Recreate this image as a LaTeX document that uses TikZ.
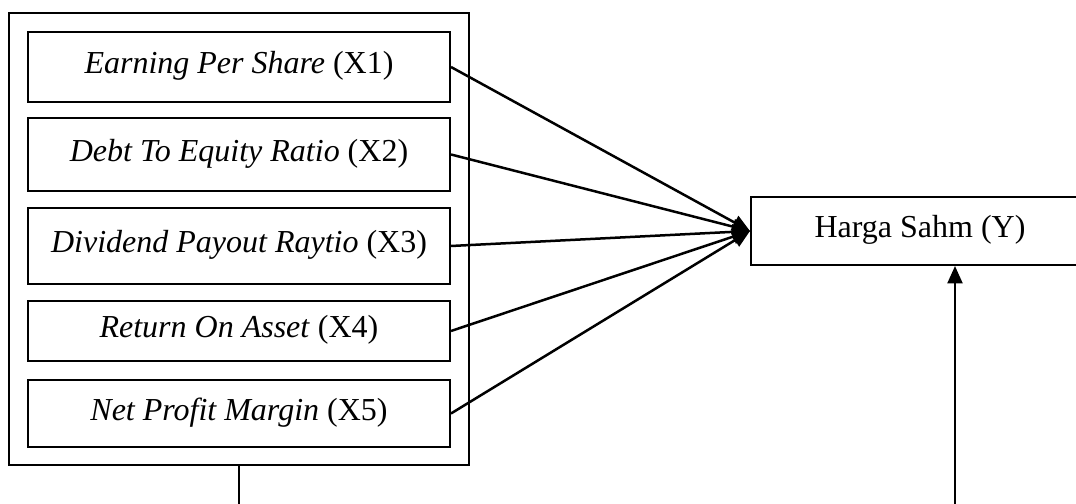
\documentclass[tikz,border=0pt,12pt]{standalone}
\usepackage{fontspec}
\setmainfont{Liberation Serif}
\usetikzlibrary{positioning, arrows.meta, fit}

\begin{document}
\begin{tikzpicture}[x=0.4pt, y=-0.4pt,
  font=\fontsize{12.8}{15}\selectfont,
  varbox/.style={draw, line width=0.8pt, minimum width=168.8pt, inner sep=0pt,
    text height=9pt, text depth=3.6pt},
  panah/.style={-{Triangle[length=7pt, width=6pt]}, line width=1pt}]
  \useasboundingbox (0,0) rectangle (1076,504);
  % variabel bebas
  \node[varbox, minimum height=28pt]   (eps) at (239,67)    {\textit{Earning Per Share} (X1)};
  \node[varbox, minimum height=29.2pt] (der) at (239,154.5) {\textit{Debt To Equity Ratio} (X2)};
  \node[varbox, minimum height=30.4pt] (dpr) at (239,246)   {\textit{Dividend Payout Raytio} (X3)};
  \node[varbox, minimum height=24pt]   (roa) at (239,331)   {\textit{Return On Asset} (X4)};
  \node[varbox, minimum height=26.8pt] (npm) at (239,413.5) {\textit{Net Profit Margin} (X5)};
  \node[draw, line width=0.8pt, fit=(eps)(npm), inner sep=7pt] (frame) {};
  % variabel terikat
  \node[varbox, minimum width=135.2pt, minimum height=27.2pt] (harga) at (920,231) {Harga Sahm (Y)};
  \foreach \v in {eps,der,dpr,roa,npm}
    \draw[panah] (\v.east) -- (harga.west);
  % simultan
  \coordinate (kiri) at (239,504);
  \coordinate (kanan) at (955,504);
  \draw[line width=1pt] (frame.south) -- (kiri);
  \draw[panah] (kanan) -- (kanan |- harga.south);
\end{tikzpicture}
\end{document}
